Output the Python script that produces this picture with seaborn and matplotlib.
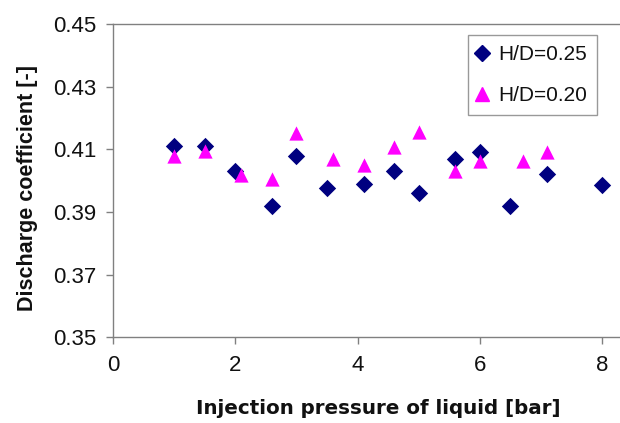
import matplotlib
matplotlib.use("Agg")
import matplotlib.pyplot as plt
from matplotlib.lines import Line2D
import pandas as pd
import seaborn as sns

# Data
x_025 = [1.0, 1.5, 2.0, 2.6, 3.0, 3.5, 4.1, 4.6, 5.0, 5.6, 6.0, 6.5, 7.1, 8.0]
cd_025 = [0.411, 0.411, 0.403, 0.392, 0.408, 0.3975, 0.399, 0.403, 0.396,
          0.407, 0.409, 0.392, 0.402, 0.3985]
x_020 = [1.0, 1.5, 2.1, 2.6, 3.0, 3.6, 4.1, 4.6, 5.0, 5.6, 6.0, 6.7, 7.1]
cd_020 = [0.408, 0.4095, 0.4018, 0.4004, 0.4153, 0.407, 0.405, 0.4108,
          0.4154, 0.403, 0.4062, 0.4063, 0.409]
labels = ["H/D=0.25", "H/D=0.20"]
xticks = [0, 2, 4, 6, 8]
yticks = [0.35, 0.37, 0.39, 0.41, 0.43, 0.45]

colors = {labels[0]: "#000080", labels[1]: "#FF00FF"}
markers = {labels[0]: "D", labels[1]: "^"}
msize = {labels[0]: 78, labels[1]: 105}

df = pd.concat([
    pd.DataFrame({"p": x_025, "cd": cd_025, "case": labels[0]}),
    pd.DataFrame({"p": x_020, "cd": cd_020, "case": labels[1]}),
])

sns.set_theme(style="white")
plt.rcParams["font.family"] = ["Liberation Sans", "DejaVu Sans"]

fig = plt.figure(figsize=(6.2, 4.23), dpi=100)
ax = fig.add_axes([0.182, 0.203, 0.818, 0.740])

# one call per series so each marker keeps its own size
for lab in labels:
    sns.scatterplot(data=df[df["case"] == lab], x="p", y="cd",
                    color=colors[lab], marker=markers[lab], s=msize[lab],
                    linewidth=0, ax=ax, legend=False)

ax.set_xlim(0, 8.29)
ax.set_ylim(0.35, 0.45)
ax.set_xticks(xticks)
ax.set_yticks(yticks)
ax.set_xticklabels([str(t) for t in xticks])
ax.set_yticklabels([f"{t:.2f}" for t in yticks])
ax.tick_params(axis="both", labelsize=16, length=5, width=1, color="#808080",
               direction="out", bottom=True, left=True, labelcolor="#111111")
ax.tick_params(axis="x", pad=8)
ax.tick_params(axis="y", pad=7)

for side in ["left", "bottom", "top"]:
    ax.spines[side].set_color("#808080")
    ax.spines[side].set_linewidth(1)
ax.spines["right"].set_visible(False)

# axis titles, placed where the reference has them
ax.set_xlabel("Injection pressure of liquid [bar]", fontsize=14.3,
              fontweight="bold", family="DejaVu Sans", color="#111111")
ax.xaxis.set_label_coords(0.523, -0.198)
ax.set_ylabel("Discharge coefficient [-]", fontsize=15.5,
              fontweight="bold", color="#111111")
ax.yaxis.set_label_coords(-0.148, 0.476)

handles = [
    Line2D([], [], marker="D", color=colors[labels[0]], linestyle="",
           markersize=8),
    Line2D([], [], marker="^", color=colors[labels[1]], linestyle="",
           markersize=10.5),
]
leg = ax.legend(handles, labels, loc="upper right",
                bbox_to_anchor=(0.955, 0.965), fontsize=15, frameon=True,
                fancybox=False, edgecolor="#808080", handletextpad=0.55,
                handlelength=0.4, borderpad=0.5, labelspacing=1.03,
                borderaxespad=0)
leg.get_frame().set_linewidth(1)
for t in leg.get_texts():
    t.set_color("#111111")

fig.savefig("out.png", dpi=100)
